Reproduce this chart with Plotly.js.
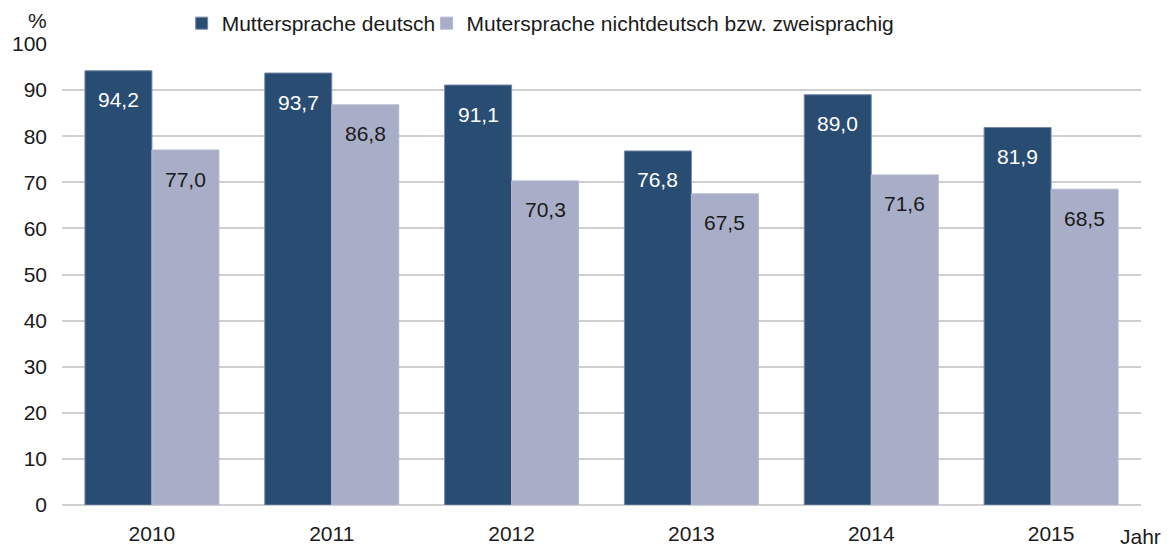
<!DOCTYPE html>
<html><head><meta charset="utf-8">
<script src="https://cdn.plot.ly/plotly-3.0.1.min.js"></script>
<style>html,body{margin:0;padding:0;background:#fff}#c{width:1173px;height:547px}</style>
</head><body><div id="c"></div>
<script>
const years = ['2010','2011','2012','2013','2014','2015'];
const deutsch = [94.2, 93.7, 91.1, 76.8, 89.0, 81.9];
const nichtdeutsch = [77.0, 86.8, 70.3, 67.5, 71.6, 68.5];
const seriesNames = ['Muttersprache deutsch', 'Mutersprache nichtdeutsch bzw. zweisprachig'];

const FONT = 'Liberation Sans, Arial, sans-serif';
const fmt = v => v.toFixed(1).replace('.', ',');

const traces = [
  {type:'bar', x:years, y:deutsch, name:seriesNames[0], legend:'legend',
   marker:{color:'#294c73', line:{color:'#7488a8', width:1}}, hoverinfo:'none'},
  {type:'bar', x:years, y:nichtdeutsch, name:seriesNames[1], legend:'legend2',
   marker:{color:'#a9aec8', line:{color:'#b4b8d0', width:1}}, hoverinfo:'none'}
];

const ann = [];
years.forEach((yr,i)=>{
  ann.push({x:i, y:deutsch[i], xref:'x', yref:'y', text:fmt(deutsch[i]), showarrow:false,
    xshift:-33.5, yshift:-29, yanchor:'middle', xanchor:'center', font:{family:FONT, size:21, color:'#ffffff'}});
  ann.push({x:i, y:nichtdeutsch[i], xref:'x', yref:'y', text:fmt(nichtdeutsch[i]), showarrow:false,
    xshift:33.5, yshift:-29, yanchor:'middle', xanchor:'center', font:{family:FONT, size:21, color:'#1a1a1a'}});
});
ann.push({xref:'paper', yref:'paper', x:-0.023, y:1.0, yshift:24, text:'%', showarrow:false,
  xanchor:'center', yanchor:'middle', font:{family:FONT, size:21, color:'#1a1a1a'}});
ann.push({xref:'paper', yref:'paper', x:1.0, y:0, yshift:-31, xshift:22, text:'Jahr', showarrow:false,
  xanchor:'right', yanchor:'middle', font:{family:FONT, size:21, color:'#1a1a1a'}});

const legendBase = {orientation:'h', xanchor:'left', y:1.0, yanchor:'bottom', yref:'paper',
  font:{family:FONT, size:21, color:'#1a1a1a'}, bgcolor:'rgba(0,0,0,0)', borderwidth:0};

const layout = {
  width:1173, height:547,
  margin:{l:62, r:32, t:44, b:42, autoexpand:false},
  paper_bgcolor:'#ffffff', plot_bgcolor:'#ffffff',
  barmode:'group', bargap:0.255, bargroupgap:0,
  font:{family:FONT, size:21, color:'#1a1a1a'},
  showlegend:true,
  legend:Object.assign({}, legendBase, {x:0.1109}),
  legend2:Object.assign({}, legendBase, {x:0.3379}),
  xaxis:{type:'category', showgrid:false, zeroline:false, showline:false, ticks:'',
    ticklabelstandoff:14,
    tickfont:{family:FONT, size:21, color:'#1a1a1a'}, range:[-0.5,5.5], fixedrange:true},
  yaxis:{range:[0,100], dtick:10, showgrid:true, gridcolor:'#cfcfcf', gridwidth:2,
    zeroline:true, zerolinecolor:'#cfcfcf', zerolinewidth:2, showline:false, ticks:'',
    ticklabelstandoff:14, tickfont:{family:FONT, size:21, color:'#1a1a1a'}, fixedrange:true},
  annotations:ann
};

Plotly.newPlot('c', traces, layout, {displayModeBar:false, staticPlot:true});
</script></body></html>
